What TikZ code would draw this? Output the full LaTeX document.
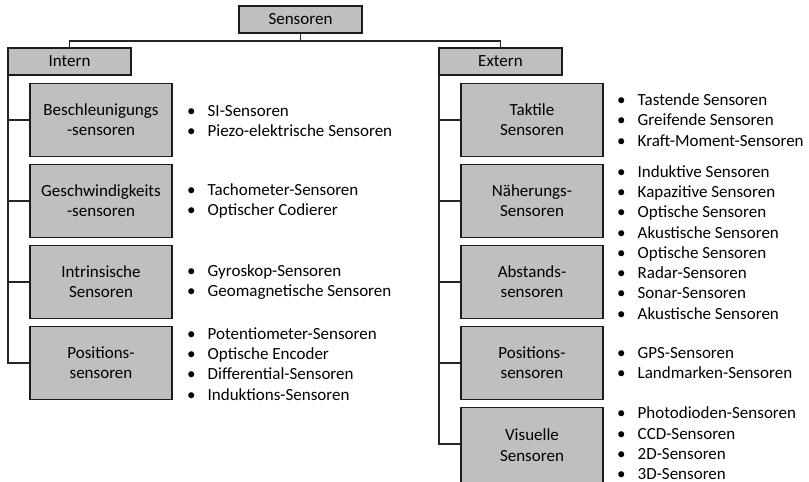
\documentclass[tikz,border=0pt]{standalone}
\usepackage{fontspec}
\setmainfont{Carlito}
\definecolor{boxfill}{HTML}{BFBFBF}
\definecolor{boxline}{HTML}{1C1C1C}
\definecolor{wirecol}{HTML}{262626}
\newcommand\fs{\fontsize{17}{20.3}\selectfont}
\newcommand\itm[1]{\makebox[20.5pt][l]{\textbullet}#1}
\tikzset{
  box/.style={draw=boxline, fill=boxfill, line width=1.8pt,
    minimum width=142pt, minimum height=73pt, inner sep=0pt,
    align=center, font=\fs},
  head/.style={box, minimum width=123pt, minimum height=27pt},
  wire/.style={draw=wirecol, line width=1.3pt},
  items/.style={anchor=west, align=left, inner sep=0pt, font=\fs}
}
\begin{document}
\begin{tikzpicture}[x=1pt, y=-1pt]
\useasboundingbox (0,0) rectangle (809,482);

% top level
\node[head] (sens) at (300.5,19.5) {Sensoren};
\node[head] (intern) at (69.5,61.5) {Intern};
\node[head] (extern) at (500.5,61.5) {Extern};

% internal sensors
\node[box] (b1) at (101,120) {Beschleunigungs\\-sensoren};
\node[box] (b2) at (101,201) {Geschwindigkeits\\-sensoren};
\node[box] (b3) at (101,282) {Intrinsische\\Sensoren};
\node[box] (b4) at (101,363) {Positions-\\sensoren};

% external sensors (the last box runs past the lower edge)
\node[box] (e1) at (532,120) {Taktile\\Sensoren};
\node[box] (e2) at (532,201) {Näherungs-\\Sensoren};
\node[box] (e3) at (532,282) {Abstands-\\sensoren};
\node[box] (e4) at (532,363) {Positions-\\sensoren};
\node[box, minimum height=79pt] (e5) at (532,447)
  {\raisebox{3pt}{\begin{tabular}{@{}c@{}}Visuelle\\Sensoren\end{tabular}}};

% item lists
\node[items] (l1) at (187,121) {\itm{SI-Sensoren}\\\itm{Piezo-elektrische Sensoren}};
\node[items] (l2) at (187,201) {\itm{Tachometer-Sensoren}\\\itm{Optischer Codierer}};
\node[items] (l3) at (187,282) {\itm{Gyroskop-Sensoren}\\\itm{Geomagnetische Sensoren}};
\node[items] (l4) at (187,364) {\itm{Potentiometer-Sensoren}\\\itm{Optische Encoder}\\\itm{Differential-Sensoren}\\\itm{Induktions-Sensoren}};

\node[items] (r1) at (617,120) {\itm{Tastende Sensoren}\\\itm{Greifende Sensoren}\\\itm{Kraft-Moment-Sensoren}};
\node[items] (r2) at (617,202) {\itm{Induktive Sensoren}\\\itm{Kapazitive Sensoren}\\\itm{Optische Sensoren}\\\itm{Akustische Sensoren}};
\node[items] (r3) at (617,283) {\itm{Optische Sensoren}\\\itm{Radar-Sensoren}\\\itm{Sonar-Sensoren}\\\itm{Akustische Sensoren}};
\node[items] (r4) at (617,363) {\itm{GPS-Sensoren}\\\itm{Landmarken-Sensoren}};
\node[items] (r5) at (617,443.5) {\itm{Photodioden-Sensoren}\\\itm{CCD-Sensoren}\\\itm{2D-Sensoren}\\\itm{3D-Sensoren}};

% connectors
\coordinate (bus) at (300.5,41);
\draw[wire] (sens.south) -- (bus) -| (intern.north);
\draw[wire] (bus) -| (extern.north);

\coordinate (lt) at ([xshift=1pt]intern.south west);
\draw[wire] (lt) |- (b4.west);
\foreach \b in {b1,b2,b3} \draw[wire] (lt |- \b.west) -- (\b.west);

\coordinate (rt) at ([xshift=1pt]extern.south west);
\draw[wire] (rt) |- ([yshift=3pt]e5.west);
\foreach \b in {e1,e2,e3,e4} \draw[wire] (rt |- \b.west) -- (\b.west);
\end{tikzpicture}
\end{document}
